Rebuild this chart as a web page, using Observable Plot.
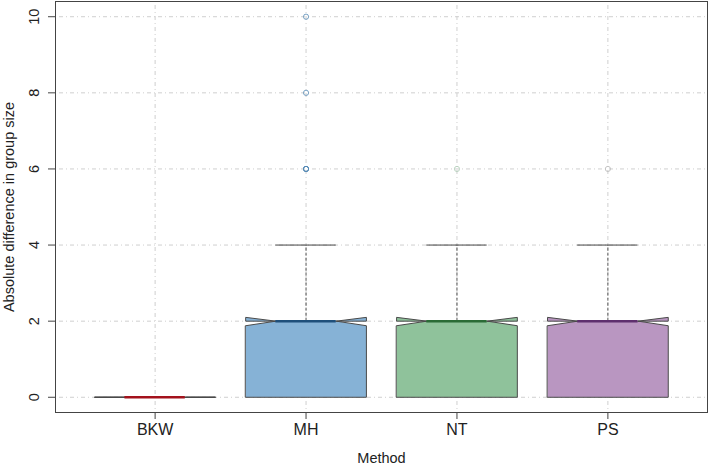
<!DOCTYPE html>
<html>
<head>
<meta charset="utf-8">
<script src="https://cdn.jsdelivr.net/npm/d3@7"></script>
<script src="https://cdn.jsdelivr.net/npm/@observablehq/plot@0.6"></script>
<style>
  html, body { margin: 0; padding: 0; background: #fff; }
  svg { display: block; }
</style>
</head>
<body>
<div id="chart"></div>
<script>
// ---- data ----
const methods   = ["BKW", "MH", "NT", "PS"];
const q1        = [0, 0, 0, 0];
const medians   = [0, 2, 2, 2];
const q3        = [0, 2, 2, 2];
const notchLo   = [0, 1.88, 1.88, 1.88];
const notchHi   = [0, 2.1, 2.1, 2.1];
const whiskerHi = [0, 4, 4, 4];
const outliers  = [[], [6, 6, 6, 8, 10], [6], [6]];
const yTicks    = [0, 2, 4, 6, 8, 10];
const boxFills     = ["#ffffff", "#86b2d6", "#8fc29b", "#b996c1"];
const medianColors = ["#a3121c", "#1f4f7a", "#2a6b36", "#5e2f6e"];
const outlierColors = ["#999999", "#4f86b3", "#a9c9b2", "#b4b4b4"];
const yTitle = "Absolute difference in group size";
const xTitle = "Method";

// ---- derived tables ----
const half = 0.4;  // box half-width in x units
const rows = methods.map((m, i) => ({
  method: m, pos: i + 1, q1: q1[i], med: medians[i], q3: q3[i],
  lo: notchLo[i], hi: notchHi[i], wh: whiskerHi[i]
}));
function polygon(r) {
  const x = r.pos, w = half;
  const xs = [x - w, x + w, x + w, x + w / 2, x + w, x + w, x - w, x - w, x - w / 2, x - w];
  const ys = [r.q1, r.q1, r.lo, r.med, r.hi, r.q3, r.q3, r.hi, r.med, r.lo];
  return xs.map((xx, k) => ({x: xx, y: ys[k], method: r.method}));
}
const outlierPts = outliers.flatMap((arr, i) => arr.map(v => ({pos: i + 1, v, i})));

const font = "'Liberation Sans', Arial, sans-serif";
const gridStyle = {stroke: "#cfcfcf", strokeDasharray: "1,3,4,3", strokeWidth: 1};

const marks = [
  Plot.ruleY(yTicks, {y: d => d, ...gridStyle}),
  Plot.ruleX(rows, {x: "pos", ...gridStyle}),
  // whiskers
  Plot.ruleX(rows.filter(r => r.wh > r.q3), {x: "pos", y1: "q3", y2: "wh", stroke: "#555", strokeDasharray: "3,2", strokeWidth: 1}),
  Plot.ruleY(rows, {y: "wh", x1: r => r.pos - half / 2, x2: r => r.pos + half / 2, stroke: "#444", strokeWidth: 1})
];
rows.forEach((r, i) => {
  marks.push(Plot.line(polygon(r), {x: "x", y: "y", curve: "linear-closed", fill: boxFills[i], stroke: "#4a4a4a", strokeWidth: 1}));
});
rows.forEach((r, i) => {
  marks.push(Plot.ruleY([r], {y: "med", x1: d => d.pos - half / 2, x2: d => d.pos + half / 2, stroke: medianColors[i], strokeWidth: 2.5}));
});
marks.push(
  Plot.dot(outlierPts, {x: "pos", y: "v", r: 2.6, stroke: d => outlierColors[d.i], fill: "none", strokeWidth: 1, strokeOpacity: 0.75}),
  Plot.frame({stroke: "#444", strokeWidth: 1}),
  Plot.axisY(yTicks, {tickSize: 7, tickFormat: () => "", stroke: "#444"}),
  Plot.text(yTicks, {y: d => d, text: d => String(d), frameAnchor: "left", dx: -21, rotate: -90, textAnchor: "middle", lineAnchor: "middle", fontSize: 14.5, fill: "#222", fontFamily: font}),
  Plot.axisX([1, 2, 3, 4], {tickSize: 7, tickPadding: 4, tickFormat: d => methods[d - 1], fontSize: 16, fill: "#222", stroke: "#444", fontFamily: font}),
  Plot.text([xTitle], {text: d => d, frameAnchor: "bottom", dy: 46, lineAnchor: "middle", fontSize: 14.5, fill: "#222", fontFamily: font}),
  Plot.text([yTitle], {text: d => d, frameAnchor: "left", dx: -46, rotate: -90, textAnchor: "middle", lineAnchor: "middle", fontSize: 14.5, fill: "#222", fontFamily: font})
);

const chart = Plot.plot({
  width: 709,
  height: 468,
  marginLeft: 55,
  marginRight: 2,
  marginTop: 1,
  marginBottom: 56,
  style: {fontFamily: font, background: "#fff"},
  x: {type: "linear", domain: [0.34, 4.66], axis: null},
  y: {type: "linear", domain: [-0.4, 10.4], axis: null},
  marks
});
document.getElementById("chart").appendChild(chart);
</script>
</body>
</html>
